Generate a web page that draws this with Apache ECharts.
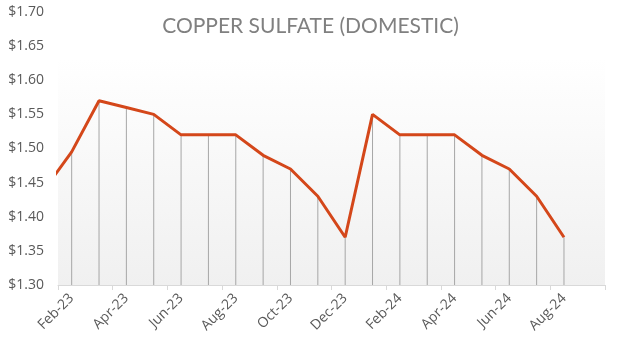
<!DOCTYPE html>
<html>
<head>
<meta charset="utf-8">
<script src="https://cdn.jsdelivr.net/npm/echarts@6/dist/echarts.min.js"></script>
<style>html,body{margin:0;padding:0;background:#fff;}#c{width:621px;height:345px;}</style>
</head>
<body>
<div id="c"></div>
<script>
// Months (Jan-23 sits just off the left edge; Sep-24 has no data)
const categories = ['Jan-23','Feb-23','Mar-23','Apr-23','May-23','Jun-23','Jul-23','Aug-23','Sep-23','Oct-23','Nov-23','Dec-23',
  'Jan-24','Feb-24','Mar-24','Apr-24','May-24','Jun-24','Jul-24','Aug-24','Sep-24'];
const prices = [1.44,1.495,1.57,1.56,1.55,1.52,1.52,1.52,1.49,1.47,1.43,1.37,
  1.55,1.52,1.52,1.52,1.49,1.47,1.43,1.37,null];
const yTicks = [1.30,1.35,1.40,1.45,1.50,1.55,1.60,1.65,1.70];
const title = 'COPPER SULFATE (DOMESTIC)';

const xMin = 0.5, xMax = categories.length - 0.5;
const pts = prices.map((v,i)=>[i,v]);
const dropPts = pts.filter(p=>p[0]>=xMin && p[1]!=null);
const tickVals = []; for (let i=0;i<categories.length;i+=2) tickVals.push(i+0.5);
const labelVals = []; for (let i=1;i<categories.length;i+=2) labelVals.push(i);

const chart = echarts.init(document.getElementById('c'), null, {renderer:'canvas'});
chart.setOption({
  animation:false,
  backgroundColor:'#ffffff',
  title:{text:title,left:'center',top:11,textStyle:{fontFamily:'Lato',fontSize:21,fontWeight:'normal',color:'#808080'}},
  graphic:[{type:'rect',silent:true,z:-10,shape:{x:58,y:58,width:547,height:227},
    style:{fill:new echarts.graphic.LinearGradient(0,0,0,1,[{offset:0,color:'#ffffff'},{offset:1,color:'#f0f0f0'}])}}],
  grid:{left:58,right:16,top:12,bottom:60,containLabel:false},
  xAxis:{type:'value',min:xMin,max:xMax,
    axisLine:{show:true,lineStyle:{color:'#d9d9d9',width:1}},
    axisTick:{show:true,customValues:tickVals,length:5,lineStyle:{color:'#d9d9d9'}},
    axisLabel:{customValues:labelVals,rotate:45,formatter:v=>categories[Math.round(v)]||'',
      color:'#595959',fontFamily:'Open Sans',fontSize:14,margin:11},
    splitLine:{show:false}},
  yAxis:{type:'value',min:yTicks[0],max:yTicks[yTicks.length-1],interval:0.05,
    axisLine:{show:false},axisTick:{show:false},splitLine:{show:false},
    axisLabel:{formatter:v=>'$'+v.toFixed(2),color:'#595959',fontFamily:'Open Sans',fontSize:14,margin:14}},
  series:[
    {type:'bar',data:dropPts,barWidth:1,itemStyle:{color:'#a6a6a6'},clip:true,z:2},
    {type:'line',data:pts,symbol:'none',clip:true,z:3,lineStyle:{color:'#D4471A',width:3}}
  ]
});
</script>
</body>
</html>
